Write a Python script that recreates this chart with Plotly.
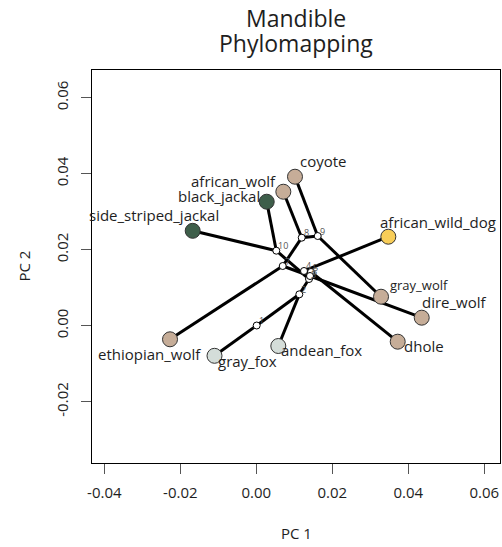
import plotly.graph_objects as go

# Tip taxa: PC scores and colour group
tip_names = ["coyote", "african_wolf", "black_jackal", "side_striped_jackal",
             "african_wild_dog", "gray_wolf", "dire_wolf", "dhole",
             "ethiopian_wolf", "gray_fox", "andean_fox"]
tip_pc1 = [0.01018, 0.00711, 0.00274, -0.01674, 0.03474, 0.03282,
           0.04353, 0.03721, -0.02271, -0.01100, 0.00579]
tip_pc2 = [0.03921, 0.03526, 0.03263, 0.02497, 0.02342, 0.00763,
           0.00211, -0.00421, -0.00358, -0.00792, -0.00534]
tip_group = ["wolf", "wolf", "jackal", "jackal", "wilddog", "wolf",
             "wolf", "wolf", "wolf", "fox", "fox"]

# Reconstructed ancestral states, internal nodes 1..10
node_ids = [1, 2, 3, 4, 5, 6, 7, 8, 9, 10]
node_pc1 = [0.00010, 0.01132, 0.01387, 0.01255, 0.01440, 0.01413,
            0.00695, 0.01195, 0.01616, 0.00526]
node_pc2 = [0.00005, 0.00826, 0.01229, 0.01440, 0.01413, 0.01308,
            0.01571, 0.02316, 0.02360, 0.01974]

# Tree edges (parent node -> child node or tip name)
edges = [(1, "gray_fox"), (1, 2),
         (2, "andean_fox"), (2, 3),
         (3, 4), (3, 10),
         (4, "african_wild_dog"), (4, 5),
         (5, 6), (5, "dhole"),
         (6, 7), (6, "dire_wolf"),
         (7, 8), (7, "ethiopian_wolf"),
         (8, "african_wolf"), (8, 9),
         (9, "coyote"), (9, "gray_wolf"),
         (10, "side_striped_jackal"), (10, "black_jackal")]

x_tick_vals = [-0.04, -0.02, 0.00, 0.02, 0.04, 0.06]
x_tick_text = ["-0.04", "-0.02", "0.00", "0.02", "0.04", "0.06"]
y_tick_vals = [-0.02, 0.00, 0.02, 0.04, 0.06]
y_tick_text = ["-0.02", "0.00", "0.02", "0.04", "0.06"]

group_colors = {"wolf": "#C6AD98", "jackal": "#3E5E4A",
                "wilddog": "#F8CD58", "fox": "#D4DDD9"}

# label placement per tip: (xanchor, xshift px, yshift px, font size)
label_place = {
    "coyote": ("left", 3, 16, 15),
    "african_wolf": ("right", -5, 11, 15),
    "black_jackal": ("right", -5, 6, 15),
    "side_striped_jackal": ("center", -39, 16, 15),
    "african_wild_dog": ("left", -10, 15, 15),
    "gray_wolf": ("left", 7, 12, 13),
    "dire_wolf": ("left", -2, 16, 15),
    "dhole": ("left", 4, -4, 15),
    "ethiopian_wolf": ("center", -21, -15, 15),
    "gray_fox": ("left", 1, -5, 15),
    "andean_fox": ("left", 1, -4, 15),
}

FONT = "Open Sans"
INK = "#1e1e1e"


def coords(key):
    if isinstance(key, int):
        i = node_ids.index(key)
        return node_pc1[i], node_pc2[i]
    i = tip_names.index(key)
    return tip_pc1[i], tip_pc2[i]


ex, ey = [], []
for parent, child in edges:
    x0, y0 = coords(parent)
    x1, y1 = coords(child)
    ex += [x0, x1, None]
    ey += [y0, y1, None]

fig = go.Figure()
fig.add_trace(go.Scatter(x=ex, y=ey, mode="lines",
                         line=dict(color="black", width=3),
                         hoverinfo="skip", showlegend=False))
fig.add_trace(go.Scatter(x=node_pc1, y=node_pc2, mode="markers",
                         marker=dict(size=7, color="white",
                                     line=dict(color="black", width=1)),
                         showlegend=False))
fig.add_trace(go.Scatter(x=tip_pc1, y=tip_pc2, mode="markers",
                         marker=dict(size=15,
                                     color=[group_colors[g] for g in tip_group],
                                     line=dict(color="#333333", width=1)),
                         text=tip_names, showlegend=False))

annotations = []
for name, x, y in zip(tip_names, tip_pc1, tip_pc2):
    xa, dx, dy, fs = label_place[name]
    annotations.append(dict(x=x, y=y, text=name, showarrow=False,
                            xanchor=xa, yanchor="middle",
                            xshift=dx, yshift=dy,
                            font=dict(family=FONT, size=fs, color=INK)))
for nid, x, y in zip(node_ids, node_pc1, node_pc2):
    annotations.append(dict(x=x, y=y, text=str(nid), showarrow=False,
                            xanchor="left", yanchor="middle",
                            xshift=0, yshift=5,
                            font=dict(family=FONT, size=9, color="#555555")))

# two-line title
annotations.append(dict(text="Mandible", xref="paper", yref="paper",
                        x=0.5, y=1, yshift=52, showarrow=False,
                        yanchor="middle",
                        font=dict(family=FONT, size=23, color=INK)))
annotations.append(dict(text="Phylomapping", xref="paper", yref="paper",
                        x=0.5, y=1, yshift=27, showarrow=False,
                        yanchor="middle",
                        font=dict(family=FONT, size=23, color=INK)))

# axis titles
annotations.append(dict(text="PC 1", xref="paper", yref="paper", x=0.5, y=0,
                        yshift=-70, showarrow=False, yanchor="middle",
                        font=dict(family=FONT, size=15, color=INK)))
annotations.append(dict(text="PC 2", xref="paper", yref="paper", x=0, y=0.5,
                        xshift=-69, showarrow=False, xanchor="center",
                        textangle=-90,
                        font=dict(family=FONT, size=15, color=INK)))

fig.update_layout(
    width=502, height=547,
    margin=dict(l=92, r=2, t=70, b=84),
    paper_bgcolor="white", plot_bgcolor="white",
    annotations=annotations,
    xaxis=dict(range=[-0.04324, 0.06413], tickvals=x_tick_vals,
               ticktext=x_tick_text, showgrid=False, zeroline=False,
               showline=True, linecolor="black", linewidth=1, mirror=True,
               ticks="outside", ticklen=10, tickcolor="#555555",
               ticklabelstandoff=6,
               tickfont=dict(family=FONT, size=15, color=INK)),
    yaxis=dict(range=[-0.03613, 0.06729], tickvals=y_tick_vals,
               ticktext=y_tick_text, showgrid=False, zeroline=False,
               showline=True, linecolor="black", linewidth=1, mirror=True,
               ticks="outside", ticklen=10, tickcolor="#555555",
               tickangle=-90, ticklabelstandoff=7,
               tickfont=dict(family=FONT, size=15, color=INK)),
)

fig.write_html("out.html")
